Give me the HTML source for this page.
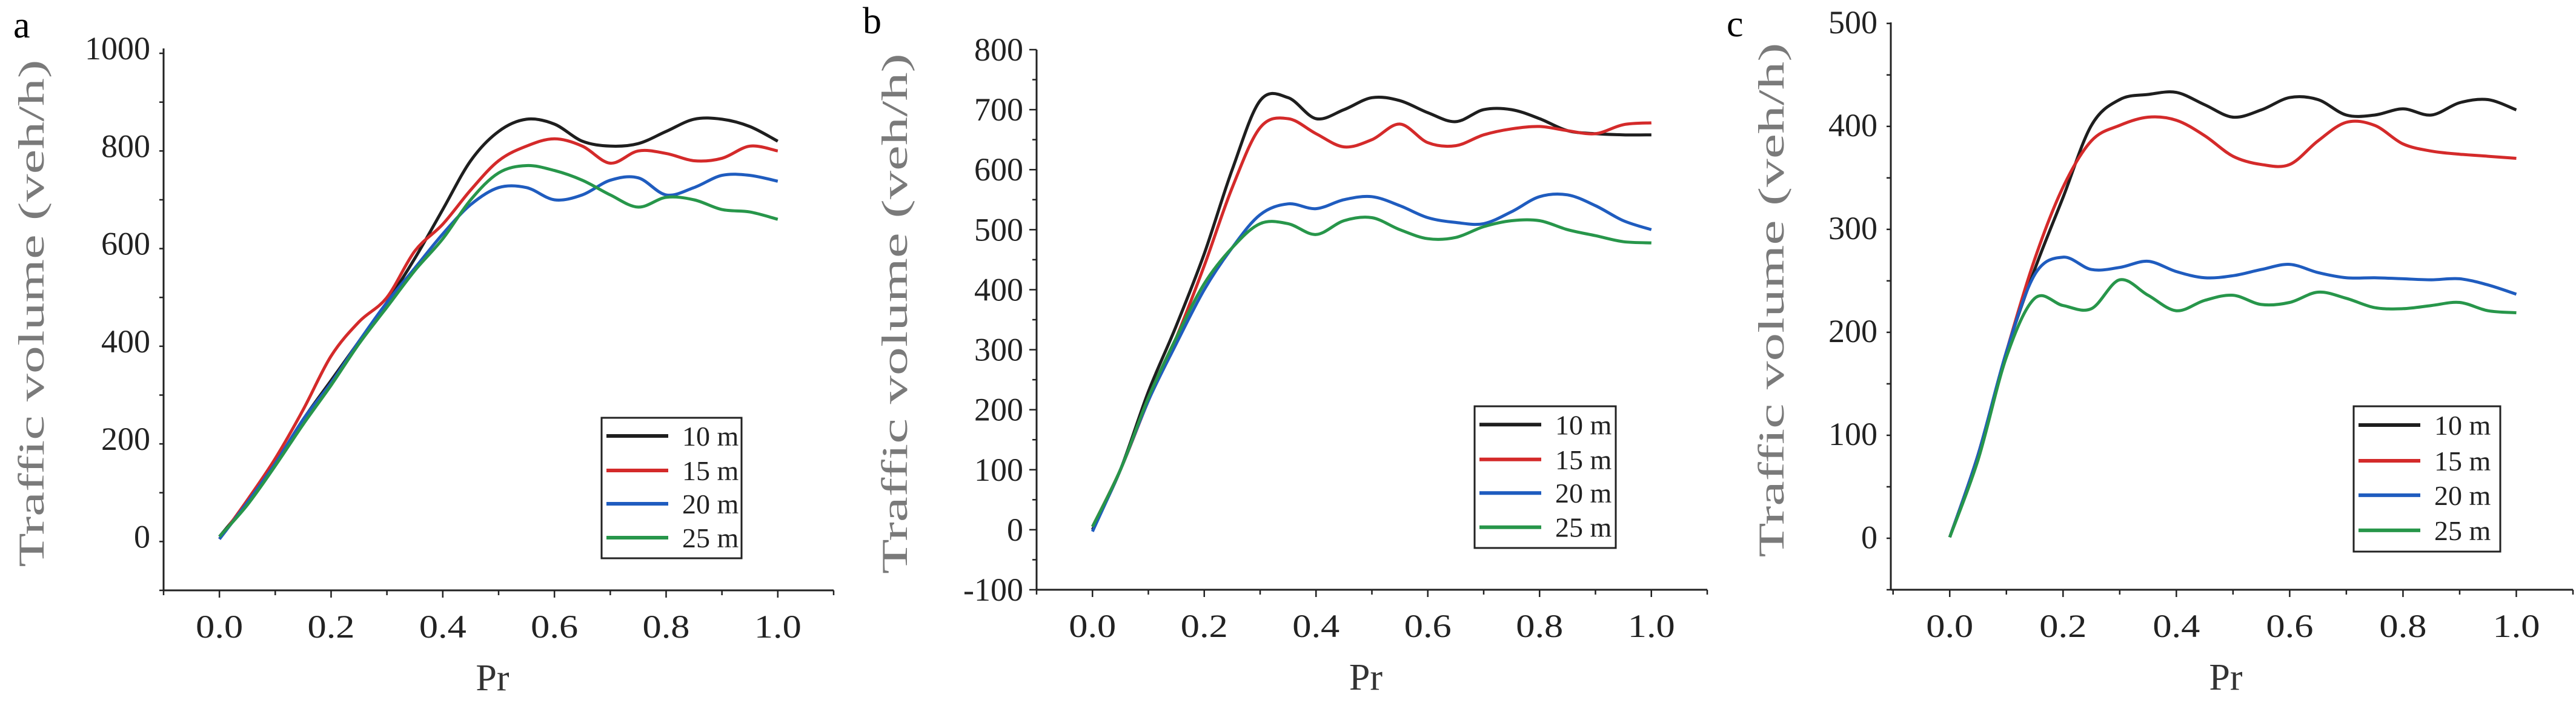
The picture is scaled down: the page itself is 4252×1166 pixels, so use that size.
<!DOCTYPE html>
<html><head><meta charset="utf-8">
<style>
html,body{margin:0;padding:0;background:#fff;}
svg{display:block;}
text{font-family:"Liberation Serif",serif;}
</style></head>
<body>
<svg id="fig" width="4252" height="1166" viewBox="0 0 4252 1166" xmlns="http://www.w3.org/2000/svg"></svg>
<script>
const xVals = [0,0.05,0.1,0.15,0.2,0.25,0.3,0.35,0.4,0.45,0.5,0.55,0.6,0.65,0.7,0.75,0.8,0.85,0.9,0.95,1.0];
const seriesNames = ["10 m","15 m","20 m","25 m"];
const seriesColors = ["#1e1e1e","#d42a2a","#1f5cbf","#27964a"];
const xTicks = ["0.0","0.2","0.4","0.6","0.8","1.0"];

const aS10 = [0,70,150,240,320,400,480,570,670,770,830,855,845,810,800,805,830,855,855,840,810];
const aS15 = [-5,75,160,260,370,440,490,585,640,710,770,800,815,800,765,790,785,770,775,800,790];
const aS20 = [-5,70,150,240,315,400,480,550,620,680,715,715,690,700,730,735,700,715,740,740,728];
const aS25 = [0,65,145,230,310,395,470,545,610,690,745,760,750,730,700,675,695,690,670,665,650];
const aTicksY = [0,200,400,600,800,1000];

const bS10 = [0,100,230,340,460,600,715,720,685,700,720,715,695,680,700,700,685,665,660,658,658];
const bS15 = [5,100,215,320,440,570,670,685,660,638,650,676,645,640,658,668,672,665,660,675,678];
const bS20 = [-3,100,215,310,400,470,525,543,535,550,555,540,520,512,510,530,555,558,540,515,500];
const bS25 = [5,100,220,320,410,470,510,510,492,515,520,500,485,487,505,515,515,500,490,480,478];
const bTicksY = [-100,0,100,200,300,400,500,600,700,800];

const cS10 = [0,80,180,260,330,400,425,430,432,420,408,415,427,425,410,410,416,410,422,425,415];
const cS15 = [0,80,180,270,340,385,400,408,405,390,370,362,362,385,403,400,382,375,372,370,368];
const cS20 = [0,80,180,255,272,260,262,268,258,252,254,260,265,257,252,252,251,250,251,245,236];
const cS25 = [0,75,175,232,225,222,250,235,220,230,235,226,228,238,232,223,222,225,228,220,218];
const cTicksY = [0,100,200,300,400,500];

const NS="http://www.w3.org/2000/svg";
const svg=document.getElementById('fig');
function mk(tag,attrs,parent){const e=document.createElementNS(NS,tag);for(const k in attrs)e.setAttribute(k,attrs[k]);(parent||svg).appendChild(e);return e;}

function smoothPath(pts){
  let d="M"+pts[0][0].toFixed(1)+","+pts[0][1].toFixed(1);
  for(let i=0;i<pts.length-1;i++){
    const p0=pts[Math.max(0,i-1)],p1=pts[i],p2=pts[i+1],p3=pts[Math.min(pts.length-1,i+2)];
    const c1=[p1[0]+(p2[0]-p0[0])/6,p1[1]+(p2[1]-p0[1])/6];
    const c2=[p2[0]-(p3[0]-p1[0])/6,p2[1]-(p3[1]-p1[1])/6];
    d+=" C"+c1[0].toFixed(1)+","+c1[1].toFixed(1)+" "+c2[0].toFixed(1)+","+c2[1].toFixed(1)+" "+p2[0].toFixed(1)+","+p2[1].toFixed(1);
  }
  return d;
}

function panel(cfg){
  const g=mk('g',{});
  
  
  const X=v=>cfg.x0+(v-cfg.xmin)/(cfg.xmax-cfg.xmin)*(cfg.x1-cfg.x0);
  const Y=v=>cfg.yb-(v-cfg.ymin)/(cfg.ymax-cfg.ymin)*(cfg.yb-cfg.yt);
  const lt=mk('text',{x:cfg.lx,y:cfg.ly,'font-size':62,fill:'#000'},g);lt.textContent=cfg.letter;
  
  
  const ya=mk('line',{x1:cfg.x0,y1:cfg.yt,x2:cfg.x0,y2:cfg.yb,stroke:'#222','stroke-width':3},g);
  
  
  const xa=mk('line',{x1:cfg.x0,y1:cfg.yb,x2:cfg.x1,y2:cfg.yb,stroke:'#222','stroke-width':3},g);
  
  
  const step=cfg.ticksY[1]-cfg.ticksY[0];
  for(let v=cfg.ymin;v<=cfg.ymax+1e-6;v+=step/2){
    const major=cfg.ticksY.some(t=>Math.abs(t-v)<1e-6);
    mk('line',{x1:cfg.x0-(major?12:7),y1:Y(v),x2:cfg.x0,y2:Y(v),stroke:'#222','stroke-width':2.5},g);
  }
  cfg.ticksY.forEach(t=>{
    const tx=mk('text',{x:cfg.x0-22,y:Y(t)+18,'font-size':54,'text-anchor':'end',fill:'#222'},g);
    tx.textContent=t;
    
    
  });
  for(let i=-1;i<=11;i++){
    const v=i/10;
    mk('line',{x1:X(v),y1:cfg.yb,x2:X(v),y2:cfg.yb+(i%2===0?12:8),stroke:'#222','stroke-width':2.5},g);
  }
  xTicks.forEach(t=>{
    const tx=mk('text',{x:X(parseFloat(t)),y:cfg.yb+78,'font-size':54,'text-anchor':'middle',fill:'#222',textLength:78,lengthAdjust:'spacingAndGlyphs'},g);
    tx.textContent=t;
    
    
  });
  const xt=mk('text',{x:(cfg.x0+cfg.x1)/2-10,y:cfg.yb+165,'font-size':62,'text-anchor':'middle',fill:'#333'},g);
  xt.textContent='Pr';
  
  
  const ycx=cfg.titleX, ycy=(cfg.yt+cfg.yb)/2-10;
  const yt=mk('text',{x:ycx,y:ycy,'font-size':60,'text-anchor':'middle','font-family':'Liberation Mono, monospace',fill:'#7a7a7a',transform:`rotate(-90 ${ycx} ${ycy})`,textLength:cfg.titleLen,lengthAdjust:'spacingAndGlyphs'},g);
  yt.textContent='Traffic volume (veh/h)';
  
  
  cfg.series.forEach((s,i)=>{
    const pts=xVals.map((x,j)=>[X(x),Y(s[j])]);
    const p=mk('path',{d:smoothPath(pts),fill:'none',stroke:seriesColors[i],'stroke-width':5,'stroke-linejoin':'round'},g);
    
    
  });
  const L=cfg.legend;
  const lg=mk('g',{},g);
  
  
  mk('rect',{x:L[0],y:L[1],width:L[2],height:L[3],fill:'#fff',stroke:'#222','stroke-width':3},lg);
  const rows=[30,87,142,198];
  seriesNames.forEach((n,i)=>{
    const ry=L[1]+rows[i]*L[3]/232;
    const e=mk('g',{},lg);
    
    
    mk('line',{x1:L[0]+8,y1:ry,x2:L[0]+110,y2:ry,stroke:seriesColors[i],'stroke-width':6},e);
    const t=mk('text',{x:L[0]+133,y:ry+16,'font-size':46,fill:'#222'},e);
    t.textContent=n;
  });
}

panel({letter:'a',lx:22,ly:62,x0:270,x1:1376,xmin:-0.1,xmax:1.1,yt:80,yb:975,ymin:-110,ymax:1000,ticksY:aTicksY,series:[aS10,aS15,aS20,aS25],legend:[993,690,231,232],titleLen:838,titleX:72});
panel({letter:'b',lx:1424,ly:55,x0:1711,x1:2818,xmin:-0.1,xmax:1.1,yt:82,yb:974,ymin:-100,ymax:800,ticksY:bTicksY,series:[bS10,bS15,bS20,bS25],legend:[2434,671,233,234],titleLen:860,titleX:1497});
panel({letter:'c',lx:2850,ly:60,x0:3121,x1:4247,xmin:-0.104,xmax:1.1,yt:37,yb:974,ymin:-51,ymax:500,ticksY:cTicksY,series:[cS10,cS15,cS20,cS25],legend:[3885,671,242,240],titleLen:850,titleX:2944});
</script>
</body></html>
